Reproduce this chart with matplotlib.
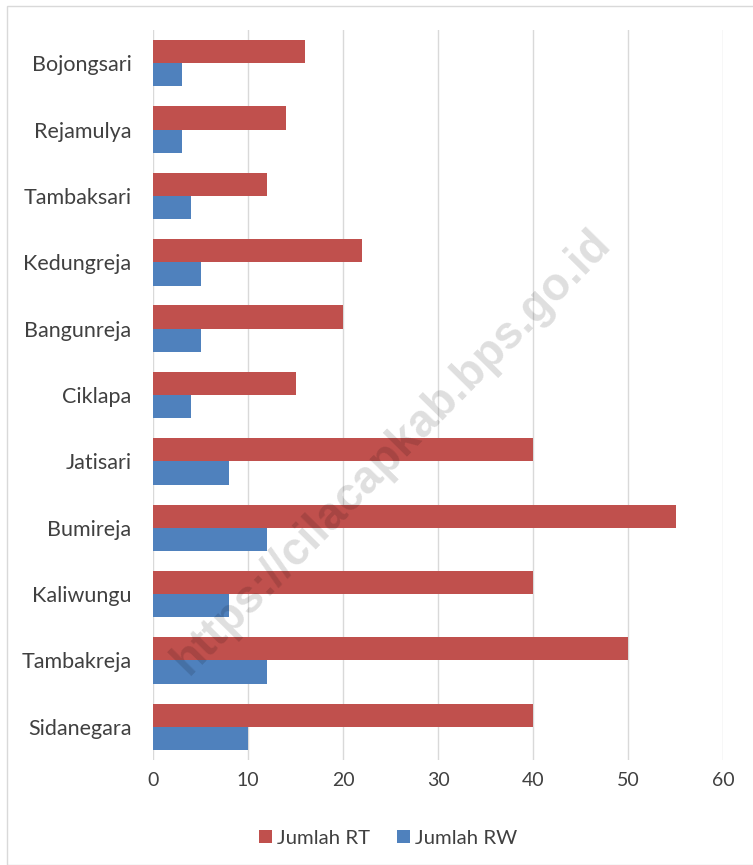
import matplotlib
matplotlib.use("Agg")
import matplotlib.pyplot as plt
import numpy as np
from matplotlib.patches import Rectangle

categories = ["Sidanegara", "Tambakreja", "Kaliwungu", "Bumireja", "Jatisari",
              "Ciklapa", "Bangunreja", "Kedungreja", "Tambaksari", "Rejamulya", "Bojongsari"]
jumlah_rt = [40, 50, 40, 55, 40, 15, 20, 22, 12, 14, 16]
jumlah_rw = [10, 12, 8, 12, 8, 4, 5, 5, 4, 3, 3]
series_names = ["Jumlah RT", "Jumlah RW"]
xticks = [0, 10, 20, 30, 40, 50, 60]

plt.rcParams['font.family'] = ['Lato', 'DejaVu Sans']

fig = plt.figure(figsize=(7.53, 8.65), dpi=100)
fig.patches.append(Rectangle((7/753, 0), 1, 1 - 6/865, transform=fig.transFigure,
                             fill=False, edgecolor='#d9d9d9', linewidth=1))
ax = fig.add_axes([153/753, 1 - 760/865, (723 - 153)/753, (760 - 30)/865])

y = np.arange(len(categories))
h = 0.35
ax.barh(y + h/2, jumlah_rt, height=h, color='#C0504D', label=series_names[0], zorder=3)
ax.barh(y - h/2, jumlah_rw, height=h, color='#4F81BD', label=series_names[1], zorder=3)

ax.set_xlim(0, 60)
ax.set_ylim(-0.5, len(categories) - 0.5)
ax.set_xticks(xticks)
ax.set_yticks(y)
ax.set_yticklabels(categories)
ax.grid(axis='x', color='#d9d9d9', linewidth=1, zorder=0)
for s in ax.spines.values():
    s.set_visible(False)
ax.tick_params(axis='both', length=0, labelcolor='#404040')
ax.tick_params(axis='x', pad=9, labelsize=14)
ax.tick_params(axis='y', pad=15.5, labelsize=15.5)

leg = fig.legend(loc='center', bbox_to_anchor=(388/753, 1 - 838/865), ncol=2, frameon=False,
                 fontsize=14.7, handlelength=0.65, handleheight=0.65, handletextpad=0.25,
                 columnspacing=1.3)
for t in leg.get_texts():
    t.set_color('#404040')

fig.text(392/753, 1 - 452/865, "https://cilacapkab.bps.go.id", rotation=45.5,
         ha='center', va='center', fontsize=33, fontweight='bold', color='black',
         family='Liberation Sans', alpha=0.13, zorder=10)

fig.savefig("out.png", dpi=100)
